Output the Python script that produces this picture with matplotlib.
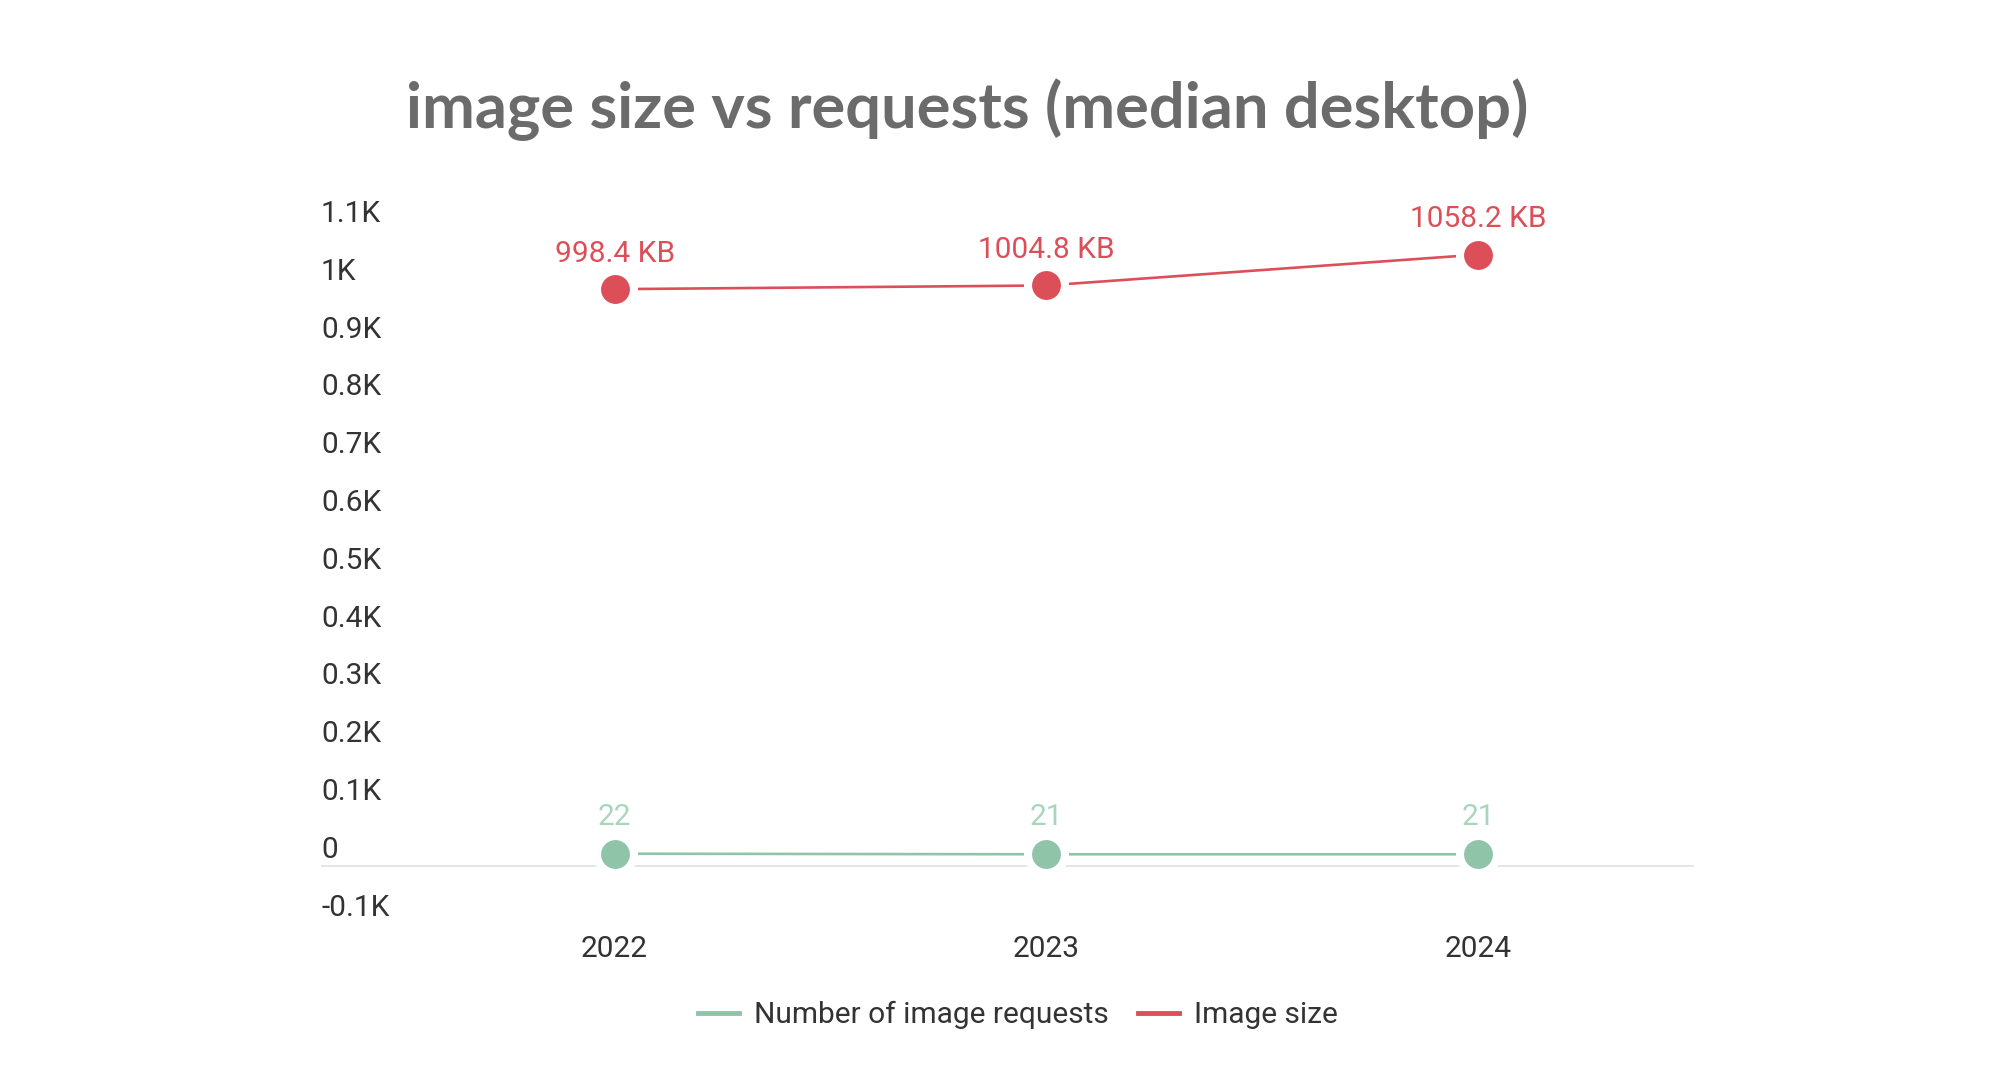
"""Image size vs requests (median desktop)."""
import matplotlib; matplotlib.use('Agg')
import matplotlib.pyplot as plt
import matplotlib.transforms as mtransforms

years = ['2022', '2023', '2024']
requests_n = [22, 21, 21]
image_kb = [998.4, 1004.8, 1058.2]
req_labels = ['22', '21', '21']
size_labels = ['998.4 KB', '1004.8 KB', '1058.2 KB']
yticks = [-100, 0, 100, 200, 300, 400, 500, 600, 700, 800, 900, 1000, 1100]
ytick_labels = ['-0.1K', '0', '0.1K', '0.2K', '0.3K', '0.4K', '0.5K',
                '0.6K', '0.7K', '0.8K', '0.9K', '1K', '1.1K']

RED = '#dc4f58'
GREEN = '#8fc4a8'
GREEN_TXT = '#a8d6bc'
TXT = '#333333'
FS = 21.5

plt.rcParams['font.family'] = ['Roboto', 'DejaVu Sans']

fig = plt.figure(figsize=(20, 10.89), dpi=100)
ax = fig.add_axes([0.1605, 0.1513, 0.6865, 0.6371])

x = list(range(len(years)))

ax.axhline(0, color='#e0e0e0', lw=1.2, zorder=1)

mk = dict(marker='o', markersize=26.6, markeredgewidth=5.8,
          markeredgecolor='white', zorder=3)
ax.plot(x, requests_n, color=GREEN, lw=1.9, markerfacecolor=GREEN,
        label='Number of image requests', **mk)
ax.plot(x, image_kb, color=RED, lw=1.9, markerfacecolor=RED,
        label='Image size', **mk)

for xi, v, t in zip(x, requests_n, req_labels):
    ax.annotate(t, (xi, v), xytext=(0, 26.5), textcoords='offset points',
                ha='center', va='center', color=GREEN_TXT, fontsize=FS)
for xi, v, t in zip(x, image_kb, size_labels):
    ax.annotate(t, (xi, v), xytext=(0, 25.5), textcoords='offset points',
                ha='center', va='center', color=RED, fontsize=FS)

ax.set_xlim(-0.68, 2.5)
ax.set_ylim(-100, 1100)
ax.set_xticks(x)
ax.set_xticklabels(years)
ax.set_yticks(yticks)
ax.set_yticklabels(ytick_labels)
ax.tick_params(axis='both', length=0, labelsize=FS, labelcolor=TXT)
ax.tick_params(axis='x', pad=7.5)
ax.tick_params(axis='y', pad=0)

# labels sit just above their gridline, left aligned
off = mtransforms.ScaledTranslation(0, 1.8 / 72, fig.dpi_scale_trans)
for lab in ax.get_yticklabels():
    lab.set_ha('left')
    lab.set_va('bottom')
    lab.set_transform(lab.get_transform() + off)

for s in ax.spines.values():
    s.set_visible(False)

fig.text(0.4835, 0.899, 'image size vs requests (median desktop)',
         ha='center', va='center', fontsize=45.5, fontweight='bold',
         color='#6b6b6b', family=['Lato', 'DejaVu Sans'])

leg = fig.legend(loc='center', bbox_to_anchor=(0.509, 0.068), ncol=2,
                 frameon=False, fontsize=FS, handlelength=1.37,
                 columnspacing=1.0, handletextpad=0.5)
for h in leg.legend_handles:
    h.set_marker('')
    h.set_linewidth(3.5)
for t in leg.get_texts():
    t.set_color(TXT)

fig.savefig('out.png', dpi=100)
